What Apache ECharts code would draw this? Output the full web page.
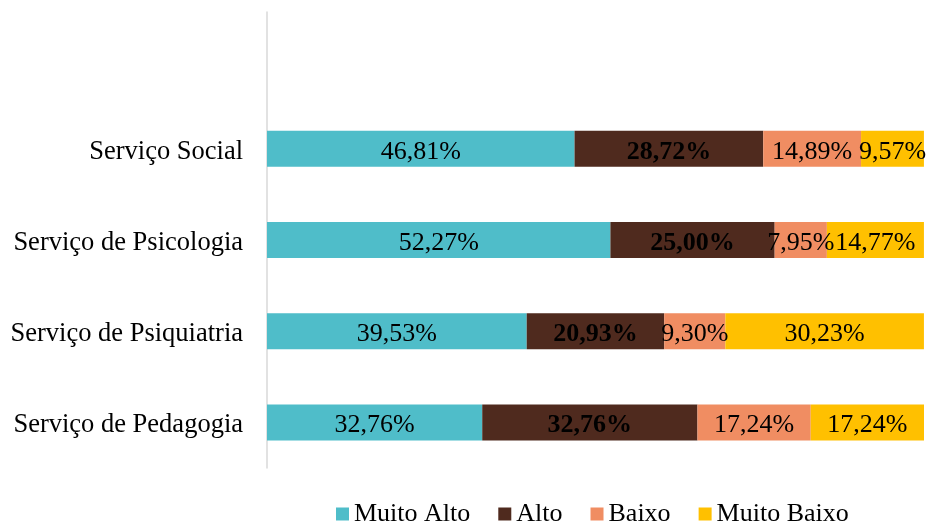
<!DOCTYPE html>
<html><head><meta charset="utf-8">
<script src="https://cdn.jsdelivr.net/npm/echarts@6/dist/echarts.min.js"></script>
<style>html,body{margin:0;padding:0;background:#fff}#c{width:945px;height:523px}</style>
</head><body><div id="c"></div>
<script>
const categories = ['Serviço de Pedagogia', 'Serviço de Psiquiatria', 'Serviço de Psicologia', 'Serviço Social', ''];
const muitoAlto = [32.76, 39.53, 52.27, 46.81, null];
const alto = [32.76, 20.93, 25.00, 28.72, null];
const baixo = [17.24, 9.30, 7.95, 14.89, null];
const muitoBaixo = [17.24, 30.23, 14.77, 9.57, null];
const seriesNames = ['Muito Alto', 'Alto', 'Baixo', 'Muito Baixo'];
const colors = ['#4FBDC9', '#4F2A1E', '#F08D62', '#FFC000'];
const font = '"Liberation Serif", "Times New Roman", serif';
const fmt = p => p.value == null ? '' : p.value.toFixed(2).replace('.', ',') + '%';
function mk(name, data, color, bold) {
  return {
    name, type: 'bar', stack: 't', data, barWidth: 36,
    itemStyle: { color },
    label: { show: true, position: 'inside', offset: [0, 3], formatter: fmt, color: '#000', fontFamily: font, fontSize: 26, fontWeight: bold ? 'bold' : 'normal' }
  };
}
const chart = echarts.init(document.getElementById('c'), null, { renderer: 'canvas' });
chart.setOption({
  animation: false,
  grid: { left: 267, right: 21, top: 12, bottom: 55 },
  xAxis: { type: 'value', min: 0, max: 100, show: false },
  yAxis: {
    type: 'category', data: categories,
    axisLine: { lineStyle: { color: '#d9d9d9', width: 1.5 } },
    axisTick: { show: false },
    axisLabel: { color: '#000', fontFamily: font, fontSize: 26.5, margin: 24, verticalAlign: 'top', lineHeight: 6 }
  },
  legend: {
    left: 331, top: 496, itemWidth: 13, itemHeight: 13, itemGap: 28,
    icon: 'rect',
    textStyle: { color: '#000', fontFamily: font, fontSize: 26 },
    data: seriesNames
  },
  series: [
    mk(seriesNames[0], muitoAlto, colors[0], false),
    mk(seriesNames[1], alto, colors[1], true),
    mk(seriesNames[2], baixo, colors[2], false),
    mk(seriesNames[3], muitoBaixo, colors[3], false)
  ]
});
</script></body></html>
